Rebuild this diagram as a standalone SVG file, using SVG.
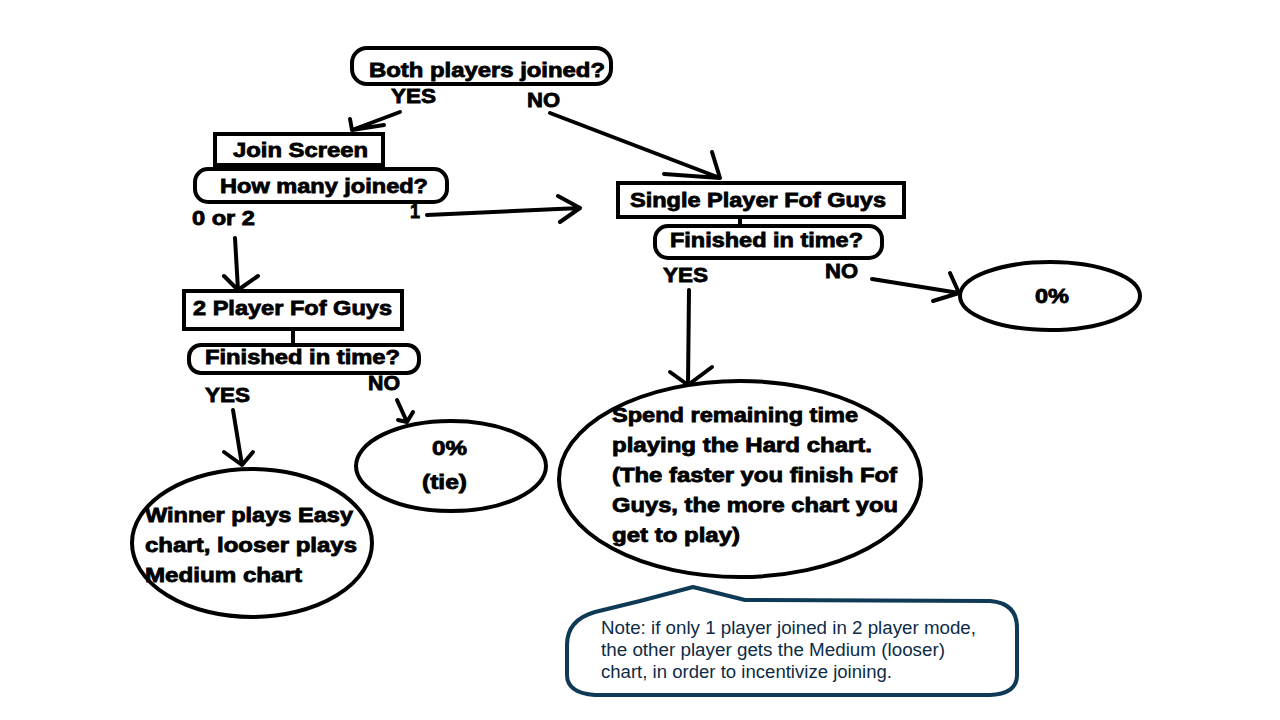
<svg xmlns="http://www.w3.org/2000/svg" width="1280" height="720" viewBox="0 0 1280 720">
<style>
.b{fill:#fff;stroke:#000;stroke-width:4}
.t{font-family:"Liberation Sans",Arial,sans-serif;font-weight:bold;font-size:20px;fill:#000;stroke:#000;stroke-width:0.8}
.c{fill:none;stroke:#000;stroke-width:4;stroke-linecap:round;stroke-linejoin:round}
.n{font-family:"Liberation Sans",Arial,sans-serif;font-size:17.5px;fill:#0d2b45}
</style>
<rect width="1280" height="720" fill="#fff"/>
<g id="connectors">
<path class="c" d="M400,112 L352,130 M350,119 L352,130 L384,125"/>
<path class="c" d="M550,113 L720,178 M712,152 L720,178 L664,174"/>
<path class="c" d="M427,215 L580,208 M558,196 L580,208 L560,222"/>
<path class="c" d="M235,238 L238,290 M224,276 L238,290 L258,276"/>
<path class="c" d="M293,330 L293,344"/>
<path class="c" d="M740,218 L740,232"/>
<path class="c" d="M233,410 L242,465 M224,452 L242,465 L253,452"/>
<path class="c" d="M397,400 L407,422 M398,420 L407,422 L413,412"/>
<path class="c" d="M872,279 L959,293 M950,273 L959,293 L933,301"/>
<path class="c" d="M689,290 L688,385 M670,372 L688,385 L712,367"/>
</g>
<g id="n-both">
<rect class="b" x="352" y="48" width="259" height="36" rx="15"/>
<text class="t" x="369" y="77" textLength="236" lengthAdjust="spacingAndGlyphs">Both players joined?</text>
</g>
<g id="lbl-top">
<text class="t" x="391" y="103" textLength="45" lengthAdjust="spacingAndGlyphs">YES</text>
<text class="t" x="527" y="107" textLength="33" lengthAdjust="spacingAndGlyphs">NO</text>
</g>
<g id="n-join">
<rect class="b" x="215" y="134" width="168" height="31"/>
<text class="t" x="233" y="157" textLength="135" lengthAdjust="spacingAndGlyphs">Join Screen</text>
</g>
<g id="n-howmany">
<rect class="b" x="195" y="169" width="252" height="33" rx="13"/>
<text class="t" x="220" y="193" textLength="208" lengthAdjust="spacingAndGlyphs">How many joined?</text>
<text class="t" x="192" y="225" textLength="63" lengthAdjust="spacingAndGlyphs">0 or 2</text>
<text class="t" x="410" y="218" textLength="10" lengthAdjust="spacingAndGlyphs">1</text>
</g>
<g id="n-single">
<rect class="b" x="618" y="183" width="286" height="34"/>
<text class="t" x="630" y="207" textLength="256" lengthAdjust="spacingAndGlyphs">Single Player Fof Guys</text>
</g>
<g id="n-finished1">
<rect class="b" x="655" y="226" width="227" height="32" rx="13"/>
<text class="t" x="670" y="247" textLength="193" lengthAdjust="spacingAndGlyphs">Finished in time?</text>
<text class="t" x="663" y="282" textLength="45" lengthAdjust="spacingAndGlyphs">YES</text>
<text class="t" x="825" y="278" textLength="33" lengthAdjust="spacingAndGlyphs">NO</text>
</g>
<g id="n-zero1">
<ellipse class="b" cx="1050" cy="296" rx="90" ry="34"/>
<text class="t" x="1035" y="303" textLength="34" lengthAdjust="spacingAndGlyphs">0%</text>
</g>
<g id="n-two">
<rect class="b" x="184" y="291" width="218" height="38"/>
<text class="t" x="193" y="315" textLength="199" lengthAdjust="spacingAndGlyphs">2 Player Fof Guys</text>
</g>
<g id="n-finished2">
<rect class="b" x="189" y="345" width="230" height="28" rx="12"/>
<text class="t" x="205" y="364" textLength="195" lengthAdjust="spacingAndGlyphs">Finished in time?</text>
<text class="t" x="205" y="402" textLength="45" lengthAdjust="spacingAndGlyphs">YES</text>
<text class="t" x="368" y="390" textLength="32" lengthAdjust="spacingAndGlyphs">NO</text>
</g>
<g id="n-tie">
<ellipse class="b" cx="451" cy="466" rx="95" ry="45"/>
<text class="t" x="432" y="455" textLength="35" lengthAdjust="spacingAndGlyphs">0%</text>
<text class="t" x="422" y="489" textLength="45" lengthAdjust="spacingAndGlyphs">(tie)</text>
</g>
<g id="n-winner">
<ellipse class="b" cx="252" cy="543" rx="120" ry="74"/>
<text class="t" x="145" y="522" textLength="208" lengthAdjust="spacingAndGlyphs">Winner plays Easy</text>
<text class="t" x="145" y="552" textLength="212" lengthAdjust="spacingAndGlyphs">chart, looser plays</text>
<text class="t" x="145" y="582" textLength="157" lengthAdjust="spacingAndGlyphs">Medium chart</text>
</g>
<g id="n-spend">
<ellipse class="b" cx="740" cy="479" rx="181" ry="98"/>
<text class="t" x="612" y="422" textLength="246" lengthAdjust="spacingAndGlyphs">Spend remaining time</text>
<text class="t" x="612" y="452" textLength="260" lengthAdjust="spacingAndGlyphs">playing the Hard chart.</text>
<text class="t" x="612" y="482" textLength="285" lengthAdjust="spacingAndGlyphs">(The faster you finish Fof</text>
<text class="t" x="612" y="512" textLength="286" lengthAdjust="spacingAndGlyphs">Guys, the more chart you</text>
<text class="t" x="612" y="542" textLength="128" lengthAdjust="spacingAndGlyphs">get to play)</text>
</g>
<g id="n-note">
<path d="M567,645 Q567,620 595,612 L640,601 L693,587 L745,600 L990,601 Q1017,603 1017,628 L1017,675 Q1017,694 990,695 L595,695 Q567,693 567,675 Z" fill="#fff" stroke="#0f3a56" stroke-width="4" stroke-linejoin="round"/>
<text class="n" x="601" y="634" textLength="375" lengthAdjust="spacingAndGlyphs">Note: if only 1 player joined in 2 player mode,</text>
<text class="n" x="601" y="656" textLength="344" lengthAdjust="spacingAndGlyphs">the other player gets the Medium (looser)</text>
<text class="n" x="601" y="678" textLength="291" lengthAdjust="spacingAndGlyphs">chart, in order to incentivize joining.</text>
</g>
</svg>
